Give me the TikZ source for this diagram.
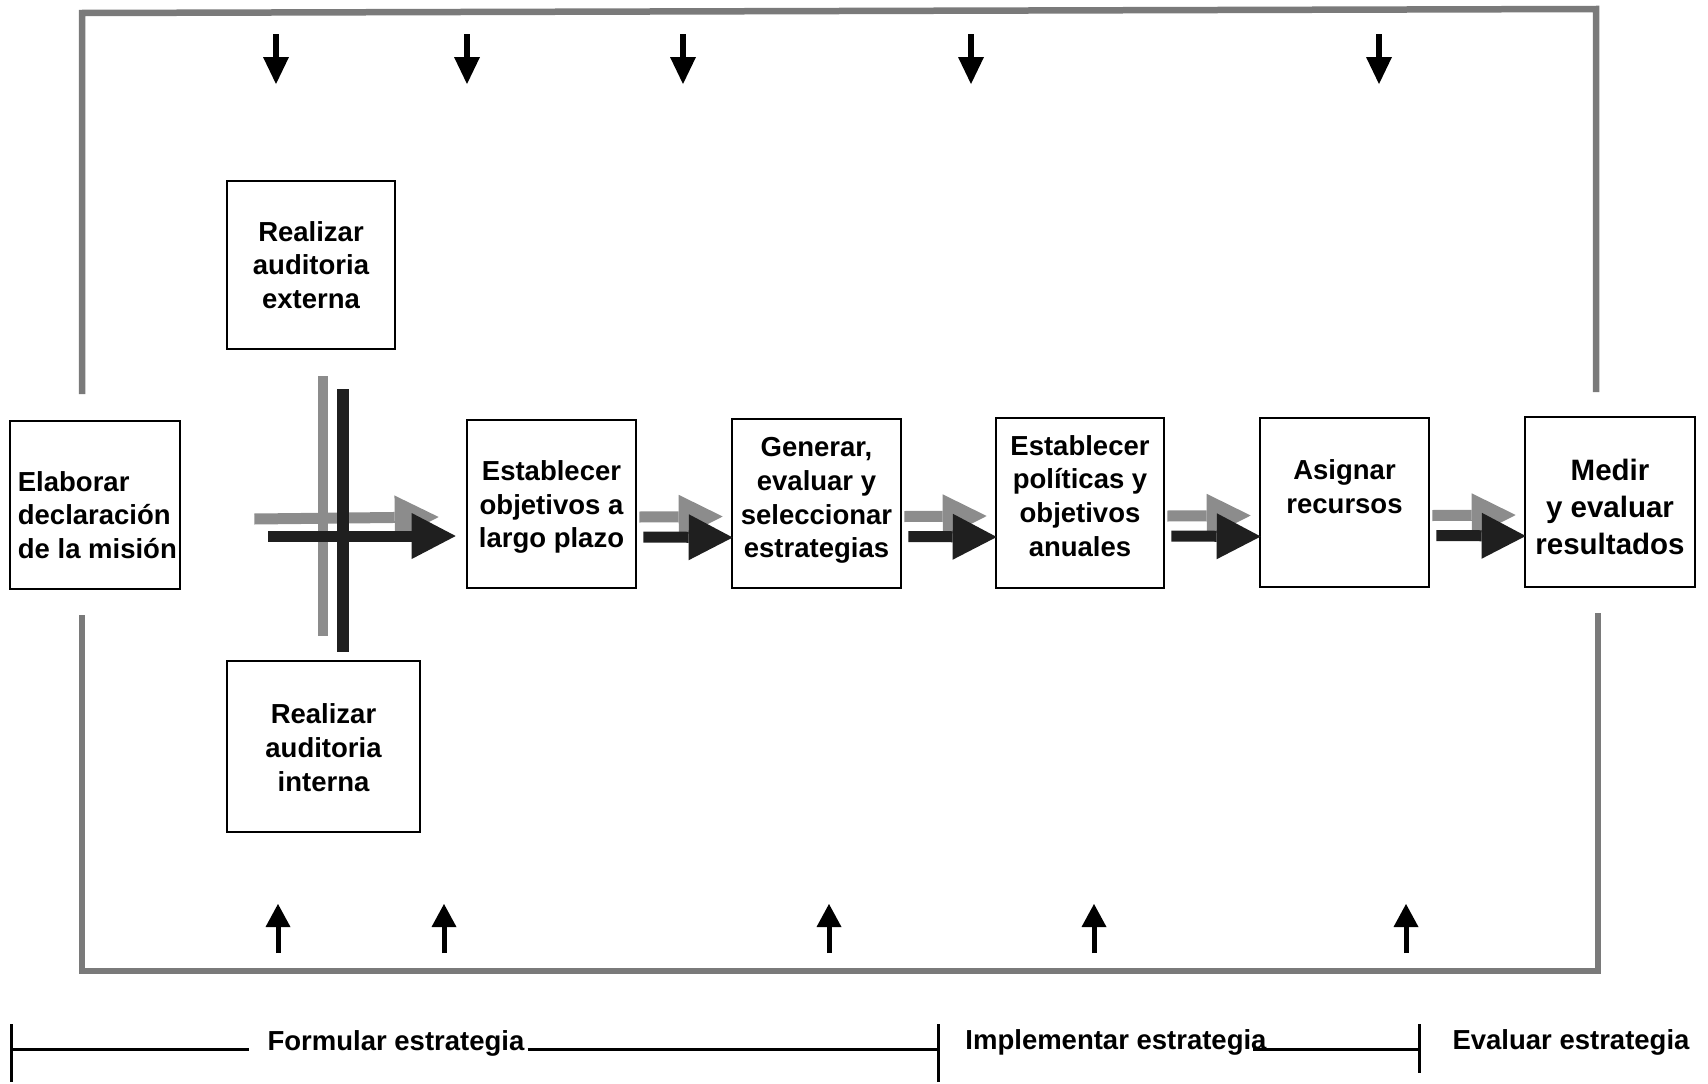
\documentclass[tikz,border=0pt]{standalone}
\usepackage{fontspec}
\setmainfont{Liberation Sans}
\usetikzlibrary{arrows.meta,calc}
\begin{document}
\begin{tikzpicture}[x=1pt,y=-1pt,
  box/.style={draw, line width=2.6pt, inner sep=0pt},
  btext/.style={font=\fontsize{27.5}{33.8}\selectfont\bfseries, align=center, inner sep=0pt},
  frameline/.style={draw=black!52, line width=6.5pt, line join=miter},
  fbdown/.style={line width=5.5pt, -{Triangle[length=27pt,width=26pt,line width=0pt]}},
  fbup/.style={line width=5pt, -{Triangle[length=23pt,width=25pt,line width=0pt]}},
  lflow/.style={draw=black!45, line width=11pt, -{Triangle[length=44pt,width=44pt,line width=0pt]}},
  dflow/.style={draw=black!88, line width=11pt, -{Triangle[length=44pt,width=46pt,line width=0pt]}},
  tline/.style={line width=3pt},
  ttext/.style={font=\fontsize{27.5}{33}\selectfont\bfseries, inner sep=0pt}
]
\path[use as bounding box] (0,0) rectangle (1708,1084);

% feedback frame
\draw[frameline] (82,394) -- (82,13) -- (1596,9) -- (1596,392);
\draw[frameline] (82,615) -- (82,971) -- (1598,971) -- (1598,613);

% feedback arrows
\foreach \x [count=\i] in {276,467,683,971,1379}{
  \coordinate (dn\i s) at (\x,34);
  \coordinate (dn\i e) at (\x,84);
  \draw[fbdown] (dn\i s) -- (dn\i e);
}
\foreach \x [count=\i] in {278,444,829,1094,1406}{
  \coordinate (up\i s) at (\x,953);
  \coordinate (up\i e) at (\x,904);
  \draw[fbup] (up\i s) -- (up\i e);
}

% boxes
\node[box, minimum width=170pt, minimum height=168pt] (elab) at (95,505) {};
\node[btext, align=left, anchor=west] (elabT) at ($(elab.west)+(9,10)$) {Elaborar\\declaración\\de la misión};

\node[box, minimum width=168pt, minimum height=168pt] (ext) at (311,265) {};
\node[btext] (extT) at (ext.center) {Realizar\\auditoria\\externa};

\node[box, minimum width=193pt, minimum height=171pt] (int) at (323.5,746.5) {};
\node[btext] (intT) at ($(int.center)+(0,1)$) {Realizar\\auditoria\\interna};

\node[box, minimum width=169pt, minimum height=168pt] (obj) at (551.5,504) {};
\node[btext] (objT) at ($(obj.center)+(0,3)$) {Establecer\\objetivos a\\largo plazo};

\node[box, minimum width=169pt, minimum height=169pt] (gen) at (816.5,503.5) {};
\node[btext] (genT) at ($(gen.center)+(0,-3)$) {Generar,\\evaluar y\\seleccionar\\estrategias};

\node[box, minimum width=168pt, minimum height=170pt] (pol) at (1080,503) {};
\node[btext] (polT) at ($(pol.center)+(0,-7)$) {Establecer\\políticas y\\objetivos\\anuales};

\node[box, minimum width=169pt, minimum height=169pt] (asig) at (1344.5,502.5) {};
\node[btext] (asigT) at ($(asig.center)+(0,-16)$) {Asignar\\recursos};

\node[box, minimum width=170pt, minimum height=170pt] (med) at (1610,502) {};
\node[btext, font=\fontsize{29.5}{37}\selectfont\bfseries] (medT) at ($(med.center)+(0,5)$) {Medir\\y evaluar\\resultados};

% cross of the audits
\draw[lflow] ($(elab.east)+(73,14)$) -- ($(obj.west)+(-27,13)$);
\draw[draw=black!45, line width=10pt] ($(ext.south)+(12,26)$) -- ($(int.north)+(-0.5,-24)$);
\draw[dflow] ($(elab.east)+(87,31)$) -- ($(obj.west)+(-10,32)$);
\draw[draw=black!88, line width=12pt] ($(ext.south)+(32,39)$) -- ($(int.north)+(19.5,-8)$);

% flow arrows
\foreach \a/\b in {obj/gen, gen/pol, pol/asig, asig/med}{
  \draw[lflow] ($(\a.east)+(2,13)$) -- ($(\b.west)+(-8,13)$);
  \draw[dflow] ($(\a.east)+(6,33)$) -- ($(\b.west)+(2,34)$);
}

% timeline
\coordinate (t0) at (11,1049);
\coordinate (t1) at (938,1049);
\coordinate (t2) at (1419,1049);
\draw[tline] ($(t0)+(0,-25)$) -- ($(t0)+(0,33)$);
\draw[tline] ($(t1)+(0,-25)$) -- ($(t1)+(0,33)$);
\draw[tline] ($(t2)+(0,-25)$) -- ($(t2)+(0,24)$);
\node[ttext] (fs) at (396,1043) {Formular estrategia};
\node[ttext] (is) at (1116,1042) {Implementar estrategia};
\node[ttext] (es) at (1571,1042) {Evaluar estrategia};
\draw[tline, shorten >=18pt] (t0) -- (t0 -| fs.west);
\draw[tline, shorten <=3pt] (t1 -| fs.east) -- (t1);
\draw[tline, shorten <=-14pt] (t2 -| is.east) -- (t2);
\end{tikzpicture}
\end{document}
